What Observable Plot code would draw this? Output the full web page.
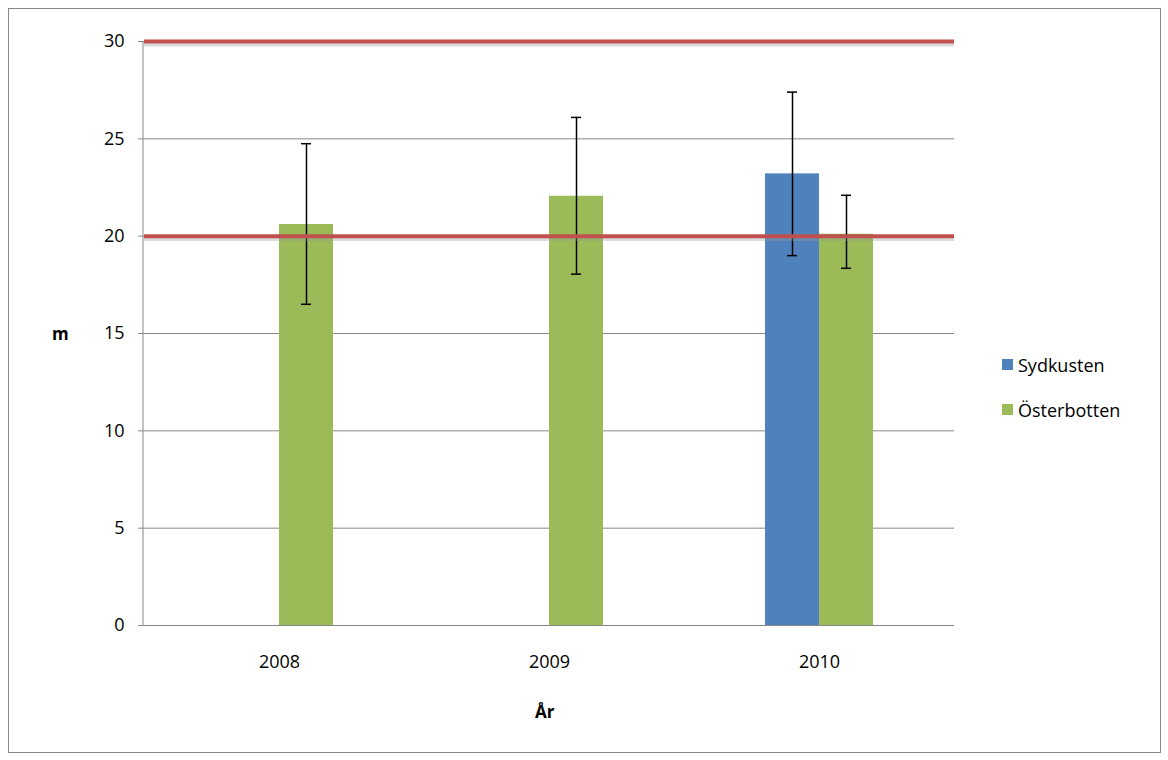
<!DOCTYPE html>
<html><head><meta charset="utf-8">
<script src="https://cdn.jsdelivr.net/npm/d3@7"></script>
<script src="https://cdn.jsdelivr.net/npm/@observablehq/plot@0.6"></script>
<style>
body{margin:0;background:#fff;font-family:"Open Sans",sans-serif;}
#wrap{position:relative;width:1168px;height:760px;}
#frame{position:absolute;left:8px;top:8px;width:1151px;height:743px;border:1px solid #888;}
.lbl{position:absolute;font-size:17px;font-weight:bold;color:#000;}
#legend{position:absolute;left:1002px;top:342px;font-size:18px;}
#legend div{display:flex;align-items:center;height:45px;}
#legend span{display:inline-block;width:11px;height:11px;margin-right:5px;}
</style></head>
<body><div id="wrap"><div id="frame"></div><div id="chart"></div>
<div class="lbl" style="left:52px;top:322px">m</div>
<div class="lbl" style="left:535px;top:700px">År</div>
<div id="legend"></div></div>
<script>
const years = ["2008", "2009", "2010"];
const seriesNames = ["Sydkusten", "Österbotten"];
const colors = ["#4f81bd", "#9bbb59"];
const sydkusten = [null, null, 23.2];
const sydLow = [null, null, 19.0];
const sydHigh = [null, null, 27.4];
const osterbotten = [20.6, 22.05, 20.1];
const ostLow = [16.5, 18.05, 18.35];
const ostHigh = [24.75, 26.1, 22.1];
const limits = [20, 30];

const rows = [];
years.forEach((y, i) => {
  if (sydkusten[i] != null) rows.push({year: y, serie: "Sydkusten", v: sydkusten[i], lo: sydLow[i], hi: sydHigh[i]});
  if (osterbotten[i] != null) rows.push({year: y, serie: "Österbotten", v: osterbotten[i], lo: ostLow[i], hi: ostHigh[i]});
});

const chart = Plot.plot({
  width: 1168, height: 760,
  marginLeft: 143, marginRight: 213, marginTop: 41, marginBottom: 135,
  style: {fontFamily: "Open Sans", color: "#000", background: "transparent"},
  fx: {domain: years, padding: 0, label: null},
  x: {domain: seriesNames, paddingInner: 0, paddingOuter: 1.46, axis: null},
  y: {domain: [0, 30], label: null},
  color: {domain: seriesNames, range: colors},
  marks: [
    Plot.gridY({ticks: 6, stroke: "#888", strokeOpacity: 1}),
    Plot.axisY({ticks: 6, tickSize: 6, tickPadding: 14, fontSize: 18, stroke: "#888", label: null}),
    Plot.axisFx({anchor: "bottom", tickSize: 0, tickPadding: 30, fontSize: 18, label: null}),
    Plot.barY(rows, {fx: "year", x: "serie", y: "v", fill: "serie"}),
    Plot.ruleX(rows, {fx: "year", x: "serie", y1: "lo", y2: "hi", stroke: "#000", strokeWidth: 1.5}),
    Plot.tickY(rows, {fx: "year", x: "serie", y: "lo", insetLeft: 22, insetRight: 22, strokeWidth: 1.5}),
    Plot.tickY(rows, {fx: "year", x: "serie", y: "hi", insetLeft: 22, insetRight: 22, strokeWidth: 1.5}),
    Plot.ruleY([0], {stroke: "#888"}),
    Plot.ruleY(limits, {y: d => d - 0.15, stroke: "#999", strokeWidth: 4, strokeOpacity: 0.35}),
    Plot.ruleY(limits, {stroke: "#c0504d", strokeWidth: 4})
  ]
});
d3.select(chart).append("line").attr("x1", 143).attr("x2", 143).attr("y1", 41).attr("y2", 625).attr("stroke", "#888");
document.getElementById("chart").append(chart);
const lg = document.getElementById("legend");
seriesNames.forEach((s, i) => {
  const d = document.createElement("div");
  d.innerHTML = `<span style="background:${colors[i]}"></span>${s}`;
  lg.append(d);
});
</script></body></html>
